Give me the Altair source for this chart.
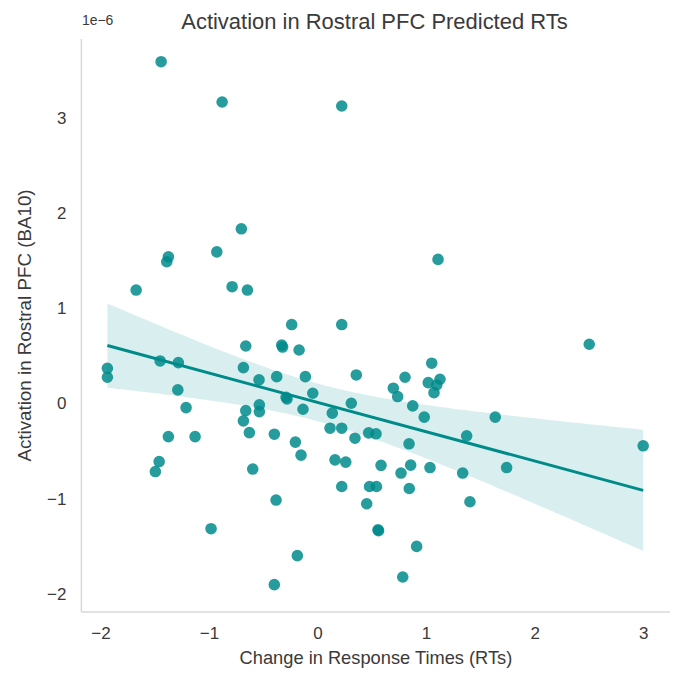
import altair as alt
import numpy as np
import pandas as pd

# Change in RTs (x) and activation in rostral PFC (y, in units of 1e-6)
rt_change = [
    -1.441, -0.879, 0.223, -0.702, -0.928, -1.374, -1.389, -1.671, -0.787, -0.646,
    1.110, -0.238, 0.223, -0.661, -0.330, -0.322, -0.170, -0.683, 0.357, -0.376,
    -0.112, -0.539, -1.450, -1.282, -1.936, -1.936, -1.287, -1.211, -0.044, -0.290,
    -0.281, 0.311, -0.536, -0.536, -0.661, -0.683, -0.134, 0.136, -0.628, -0.398,
    0.115, 0.223, 0.345, 0.471, 0.539, -1.374, -1.128, -0.204, -0.152, -1.459,
    -1.494, -0.597, 0.161, 0.260, 0.223, 0.479, 0.543, 0.453, 0.585, -0.382,
    -0.981, 0.557, 0.562, -0.186, -0.398, 2.503, 1.052, 0.806, 0.698, 0.738,
    1.020, 1.128, 1.098, 1.073, 0.877, 0.983, 1.637, 1.374, 3.000, 0.843,
    0.769, 0.858, 1.036, 1.337, 1.742, 0.845, 1.404, 0.913, 0.785,
]
activation = [
    3.592, 3.169, 3.127, 1.838, 1.596, 1.544, 1.492, 1.195, 1.230, 1.195,
    1.517, 0.833, 0.833, 0.608, 0.618, 0.597, 0.566, 0.381, 0.304, 0.286,
    0.286, 0.252, 0.451, 0.433, 0.374, 0.280, 0.147, -0.039, 0.112, 0.070,
    0.052, 0.007, -0.010, -0.081, -0.070, -0.178, -0.056, -0.097, -0.301, -0.318,
    -0.255, -0.255, -0.360, -0.304, -0.314, -0.343, -0.343, -0.401, -0.538, -0.605,
    -0.710, -0.684, -0.587, -0.611, -0.867, -0.867, -0.867, -1.048, -0.645, -1.009,
    -1.310, -1.321, -1.331, -1.593, -1.897, 0.626, 0.427, 0.280, 0.165, 0.077,
    0.223, 0.259, 0.199, 0.118, -0.021, -0.139, -0.139, -0.335, -0.440, -0.419,
    -0.726, -0.643, -0.668, -0.726, -0.668, -0.888, -1.027, -1.496, -1.817,
]
x_ticks = [-2, -1, 0, 1, 2, 3]
y_ticks = [-2, -1, 0, 1, 2, 3]
title_text = "Activation in Rostral PFC Predicted RTs"
offset_text = "1e\u22126"

df = pd.DataFrame({"x": rt_change, "y": activation})

# 95% confidence band of the OLS fit, derived from the data
xa = np.array(rt_change)
ya = np.array(activation)
n = len(xa)
b1, b0 = np.polyfit(xa, ya, 1)
resid = ya - (b0 + b1 * xa)
s = np.sqrt(np.sum(resid ** 2) / (n - 2))
grid = np.linspace(xa.min(), xa.max(), 100)
se = s * np.sqrt(1.0 / n + (grid - xa.mean()) ** 2 / np.sum((xa - xa.mean()) ** 2))
t = 1.987
fit = b0 + b1 * grid
band = pd.DataFrame({"x": grid, "lo": fit - t * se, "hi": fit + t * se})

FONT = "Liberation Sans"
COLOR = "#008b8b"
TXT = "#3a3a3a"

xscale = alt.Scale(domain=[-2.18, 3.247], nice=False, zero=False)
yscale = alt.Scale(domain=[-2.18, 3.836], nice=False, zero=False)

xaxis = alt.Axis(values=x_ticks, format="d", title="Change in Response Times (RTs)",
                 grid=False, ticks=False, labelPadding=14, titlePadding=8,
                 domainColor="#d9d9d9", domainWidth=1.5, labelFontSize=17,
                 titleFontSize=18.3, labelColor=TXT, titleColor=TXT,
                 titleFontWeight="normal", labelFont=FONT, titleFont=FONT)
yaxis = alt.Axis(values=y_ticks, format="d", title="Activation in Rostral PFC (BA10)",
                 grid=False, ticks=False, labelPadding=15, titlePadding=12,
                 domainColor="#d9d9d9", domainWidth=1.5, labelFontSize=17,
                 titleFontSize=18.8, labelColor=TXT, titleColor=TXT,
                 titleFontWeight="normal", labelFont=FONT, titleFont=FONT)

band_layer = alt.Chart(band).mark_area(color=COLOR, opacity=0.15).encode(
    x=alt.X("x:Q", scale=xscale, axis=xaxis),
    y=alt.Y("lo:Q", scale=yscale, axis=yaxis),
    y2="hi:Q",
)

points = alt.Chart(df).mark_circle(size=135, color=COLOR, opacity=0.85).encode(
    x=alt.X("x:Q", scale=xscale),
    y=alt.Y("y:Q", scale=yscale),
)

line = alt.Chart(df).transform_regression("x", "y").mark_line(
    color=COLOR, strokeWidth=3
).encode(
    x=alt.X("x:Q", scale=xscale),
    y=alt.Y("y:Q", scale=yscale),
)

offset_label = alt.Chart(pd.DataFrame({"t": [offset_text]})).mark_text(
    align="left", baseline="middle", fontSize=14, font=FONT, color=TXT
).encode(x=alt.value(1), y=alt.value(-17), text="t:N")

title_label = alt.Chart(pd.DataFrame({"t": [title_text]})).mark_text(
    align="center", baseline="alphabetic", fontSize=22, font=FONT, color=TXT
).encode(x=alt.value(294), y=alt.value(-9), text="t:N")

chart = alt.layer(band_layer, points, line, offset_label, title_label).properties(
    width=590,
    height=574,
    padding={"left": 73, "top": 30, "right": 0, "bottom": 58},
    autosize="none",
    background="white",
).configure_view(stroke=None)

chart.save("out.html", embed_options={"renderer": "svg", "actions": False})
